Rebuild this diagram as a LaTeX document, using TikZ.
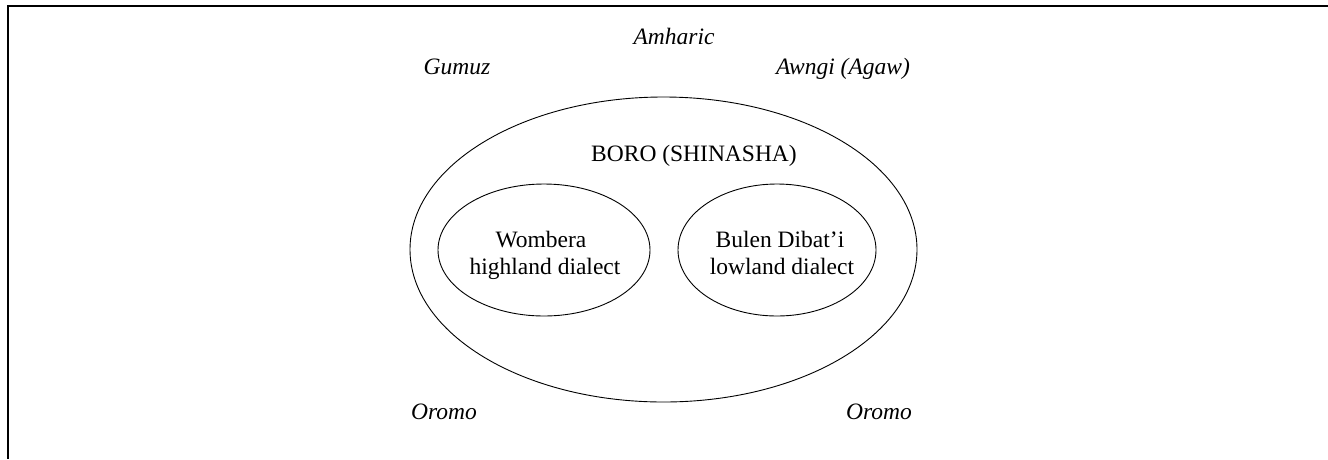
\documentclass[tikz,border=0pt]{standalone}
\usepackage{fontspec}
\setmainfont{Liberation Serif}
\usetikzlibrary{shapes.geometric}
\begin{document}
\begin{tikzpicture}[x=1pt,y=-1pt,
  txt/.style={font=\fontsize{23.5}{28}\selectfont, inner sep=0pt, anchor=base},
  itxt/.style={txt, font=\fontsize{23.5}{28}\selectfont\itshape},
  region/.style={draw, ellipse, line width=0.9pt, inner sep=0pt}]
\useasboundingbox (0,0) rectangle (1328,459);
% frame
\coordinate (fTR) at (1328,5.8);
\coordinate (fTL) at (7.8,5.8);
\coordinate (fBL) at (7.8,459);
\draw[line width=1.8pt, line join=miter] (fTR) -- (fTL) -- (fBL);
% ellipses
\node[region, minimum width=507pt, minimum height=305pt] (boro) at (663.5,249.5) {};
\node[region, minimum width=212pt, minimum height=132pt] (wombera) at (544,250) {};
\node[region, minimum width=198pt, minimum height=132pt] (bulen) at (777,250) {};
% labels
\node[itxt] (amharic) at (674,44) {Amharic};
\node[itxt] (gumuz) at (457,74) {Gumuz};
\node[itxt] (awngi) at (843,74) {Awngi (Agaw)};
\node[txt] (borolab) at (694,161) {BORO (SHINASHA)};
\node[txt] (w1) at (541,247) {Wombera};
\node[txt] (w2) at (545,274) {highland dialect};
\node[txt] (b1) at (780,247) {Bulen Dibat’i};
\node[txt] (b2) at (782,274) {lowland dialect};
\node[itxt] (oromoL) at (444,419) {Oromo};
\node[itxt] (oromoR) at (879,419) {Oromo};
\end{tikzpicture}
\end{document}
